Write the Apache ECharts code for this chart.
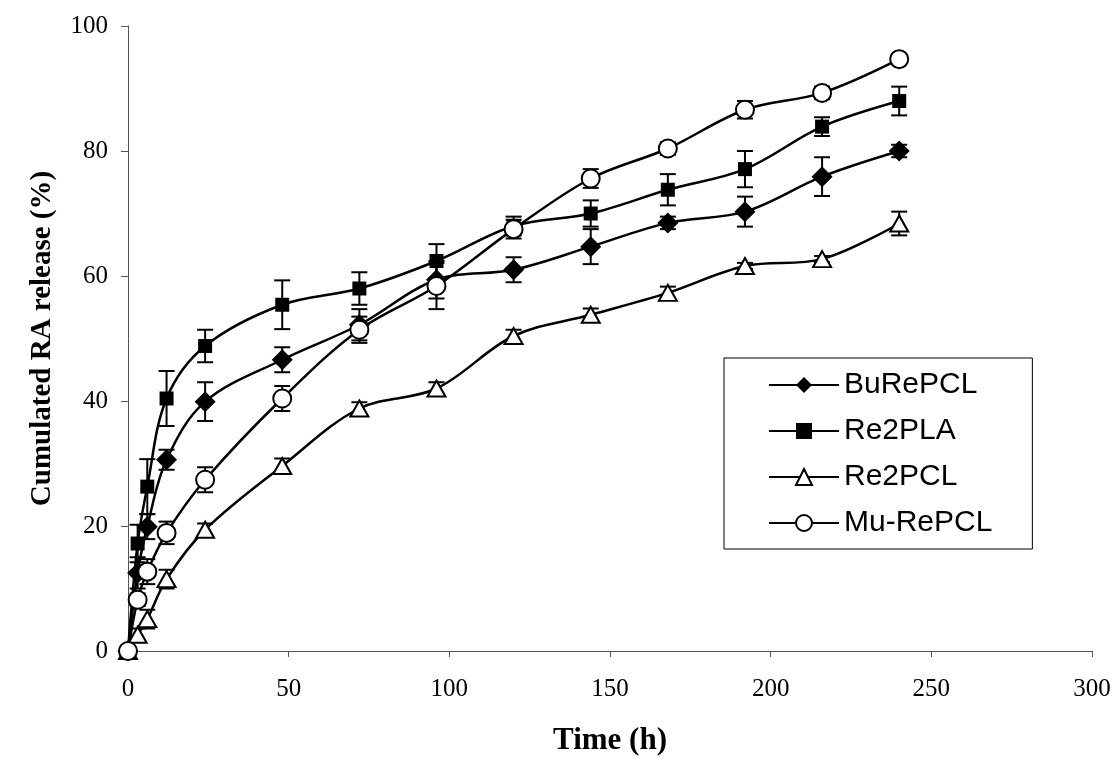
<!DOCTYPE html>
<html>
<head>
<meta charset="utf-8">
<script src="https://cdn.jsdelivr.net/npm/echarts@6/dist/echarts.min.js"></script>
<style>html,body{margin:0;padding:0;background:#fff}#c{width:1119px;height:781px}</style>
</head>
<body>
<div id="c"></div>
<script>
// Time points (h)
const times = [0, 3, 6, 12, 24, 48, 72, 96, 120, 144, 168, 192, 216, 240];
// Cumulated release (%)
const buRePCL  = [0, 12.5, 19.9, 30.6, 39.9, 46.6, 52.2, 59.4, 61.0, 64.7, 68.5, 70.3, 75.9, 80.0];
const re2PLA   = [0, 17.2, 26.3, 40.4, 48.8, 55.4, 58.0, 62.4, 68.0, 70.0, 73.8, 77.1, 83.9, 88.0];
const re2PCL   = [0, 2.6, 5.1, 11.5, 19.4, 29.6, 38.8, 42.0, 50.4, 53.8, 57.3, 61.6, 62.7, 68.4];
const muRePCL  = [0, 8.2, 12.7, 18.9, 27.4, 40.4, 51.4, 58.4, 67.5, 75.6, 80.4, 86.6, 89.3, 94.7];
// Error (± SD)
const buRePCLErr = [0, 2.5, 2.0, 1.6, 3.1, 2.0, 2.5, 3.0, 2.0, 2.8, 1.0, 2.4, 3.1, 1.0];
const re2PLAErr  = [0, 3.0, 4.4, 4.4, 2.6, 3.9, 2.6, 2.7, 1.5, 2.1, 2.5, 2.9, 1.5, 2.3];
const re2PCLErr  = [0, 1.0, 1.5, 1.5, 1.0, 1.2, 1.0, 1.0, 1.0, 1.0, 1.0, 0.5, 0.5, 1.9];
const muRePCLErr = [0, 1.0, 2.0, 1.8, 2.0, 2.0, 2.1, 3.7, 1.5, 1.5, 1.0, 1.4, 1.0, 0.5];

const xTicks = [0, 50, 100, 150, 200, 250, 300];
const yTicks = [0, 20, 40, 60, 80, 100];

const seriesDefs = [
  {name: 'BuRePCL', vals: buRePCL, err: buRePCLErr, symbol: 'diamond', size: [21, 21], fill: '#000'},
  {name: 'Re2PLA', vals: re2PLA, err: re2PLAErr, symbol: 'rect', size: 14, fill: '#000'},
  {name: 'Re2PCL', vals: re2PCL, err: re2PCLErr, symbol: 'triangle', size: [18, 16], fill: '#fff'},
  {name: 'Mu-RePCL', vals: muRePCL, err: muRePCLErr, symbol: 'circle', size: 18, fill: '#fff'}
];

const series = [];
seriesDefs.forEach(function (d) {
  series.push({
    type: 'custom',
    name: d.name + ' err',
    z: 1,
    silent: true,
    data: times.map(function (t, i) { return [t, d.vals[i] - d.err[i], d.vals[i] + d.err[i]]; }),
    encode: {x: 0, y: [1, 2]},
    renderItem: function (params, api) {
      if (api.value(2) - api.value(1) <= 0) return null;
      const lo = api.coord([api.value(0), api.value(1)]);
      const hi = api.coord([api.value(0), api.value(2)]);
      const w = 8;
      const st = {stroke: '#000', lineWidth: 2};
      return {
        type: 'group',
        children: [
          {type: 'line', shape: {x1: lo[0], y1: lo[1], x2: hi[0], y2: hi[1]}, style: st},
          {type: 'line', shape: {x1: lo[0] - w, y1: lo[1], x2: lo[0] + w, y2: lo[1]}, style: st},
          {type: 'line', shape: {x1: hi[0] - w, y1: hi[1], x2: hi[0] + w, y2: hi[1]}, style: st}
        ]
      };
    }
  });
});
seriesDefs.forEach(function (d) {
  series.push({
    type: 'line',
    name: d.name,
    z: 3,
    smooth: 0.35,
    data: times.map(function (t, i) { return [t, d.vals[i]]; }),
    symbol: d.symbol,
    symbolSize: d.size,
    showAllSymbol: true,
    lineStyle: {color: '#000', width: 2.5},
    itemStyle: {color: d.fill, borderColor: '#000', borderWidth: d.fill === '#fff' ? 2 : 0, opacity: 1},
    emphasis: {disabled: true}
  });
});

const chart = echarts.init(document.getElementById('c'), null, {renderer: 'canvas'});
chart.setOption({
  animation: false,
  backgroundColor: '#fff',
  grid: {left: 128, right: 27, top: 26, bottom: 130},
  legend: {
    data: seriesDefs.map(function (d) { return d.name; }),
    orient: 'vertical',
    left: 724,
    top: 358,
    itemWidth: 70,
    itemHeight: 20,
    itemGap: 16,
    padding: [12, 40, 11, 44],
    borderColor: '#000',
    borderWidth: 1,
    backgroundColor: '#fff',
    textStyle: {fontFamily: 'Liberation Sans, Arial, sans-serif', fontSize: 30, color: '#000', lineHeight: 30},
    selectedMode: false
  },
  xAxis: {
    type: 'value',
    min: 0, max: 300, interval: 50,
    name: 'Time (h)',
    nameLocation: 'middle',
    nameGap: 74,
    nameTextStyle: {fontFamily: 'Liberation Serif, Times New Roman, serif', fontWeight: 'bold', fontSize: 31, color: '#000'},
    axisLine: {lineStyle: {color: '#555', width: 1}},
    axisTick: {length: 6, lineStyle: {color: '#555'}},
    axisLabel: {fontFamily: 'Liberation Serif, Times New Roman, serif', fontSize: 25, color: '#000', margin: 26},
    splitLine: {show: false}
  },
  yAxis: {
    type: 'value',
    min: 0, max: 100, interval: 20,
    name: 'Cumulated RA release (%)',
    nameLocation: 'middle',
    nameGap: 71,
    nameRotate: 90,
    nameTextStyle: {fontFamily: 'Liberation Serif, Times New Roman, serif', fontWeight: 'bold', fontSize: 29, color: '#000'},
    axisLine: {show: true, lineStyle: {color: '#555', width: 1}},
    axisTick: {show: true, length: 7, lineStyle: {color: '#555'}},
    axisLabel: {fontFamily: 'Liberation Serif, Times New Roman, serif', fontSize: 25, color: '#000', margin: 20},
    splitLine: {show: false}
  },
  series: series
});
</script>
</body>
</html>
